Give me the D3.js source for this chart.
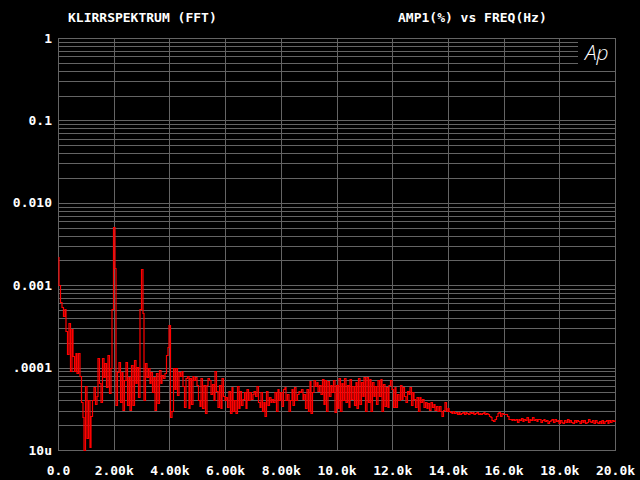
<!DOCTYPE html>
<html>
<head>
<meta charset="utf-8">
<script src="https://cdn.jsdelivr.net/npm/d3@7"></script>
<style>
  html, body { margin: 0; padding: 0; background: #000; }
  svg { display: block; }
</style>
</head>
<body>
<svg id="chart" width="640" height="480"></svg>
<script>
// ---- Data ----
const titleLeft = "KLIRRSPEKTRUM (FFT)";
const titleRight = "AMP1(%) vs FREQ(Hz)";
const logoText = "Ap";

// FFT bin spacing in Hz
const freqStepHz = 50;
// Amplitude of each bin, in u (1u = 1e-6 %), bins 0 Hz .. 20 kHz
const ampMicroPct = [
  2200,1000,620,540,420,510,280,145,350,90,
  290,140,90,150,86,150,80,38,25,10,
  60,14,40,11,26,40,58,36,45,130,
  65,38,130,77,114,58,142,49,100,520,
  5100,1600,35,88,117,38,88,31,71,117,
  35,77,31,107,35,124,65,102,44,520,
  1570,460,40,114,77,99,65,88,50,77,
  31,86,37,93,65,81,75,85,142,180,
  330,25,30,99,55,99,47,88,80,90,
  60,33,75,80,32,75,36,80,70,77,
  62,40,34,75,32,62,28,62,75,70,
  48,64,40,90,52,33,62,32,75,45,
  40,44,33,52,28,58,30,40,28,60,
  32,52,35,42,50,32,55,40,50,42,
  48,52,45,60,38,33,50,30,38,26,
  52,35,44,38,42,38,50,30,55,40,
  50,34,55,58,40,48,30,40,55,35,
  58,40,48,52,50,55,42,48,32,55,
  30,68,28,50,70,60,66,52,62,48,
  72,36,70,30,68,45,62,50,70,29,
  62,32,75,30,65,40,75,38,62,33,
  72,42,60,35,66,32,75,36,66,45,
  77,30,77,38,72,30,66,45,60,36,
  70,45,72,30,64,34,58,33,62,70,
  55,33,58,33,48,40,62,42,58,45,
  38,52,48,58,35,50,42,33,44,30,
  44,38,42,33,38,32,37,31,38,33,
  36,31,34,30,34,30,26,31,38,30,
  32,30,29,28,30,28,29,27,29,27,
  28,29,27,29,28,27,29,28,29,27,
  28,29,27,28,27,28,29,27,28,27,
  26,25,23,22.5,24,26,28,29,26,28,
  27.5,27.5,27,26,24,24,23,24,23,24,
  22,24,23,24.5,22.5,24,23,25,22,24,
  23,25,23,24,22.5,24,23.5,22,23,24,
  22.5,23,21.5,22.5,23,24,22,23.5,22.5,23,
  21.5,23,22,21.5,23,22,23.5,22,23,22,
  21.5,23,22,23,22.5,21.5,23,22,23,21.5,
  22,23.5,22.5,22,23,21.5,23,22,21,22.5,
  21.5,23,21,22.5,23,21.5,23,22,23,22.5,
  23
];

const yTickValues = [1e-5, 1e-4, 1e-3, 1e-2, 1e-1, 1];
const yTickLabels = ["10u", ".0001", "0.001", "0.010", "0.1", "1"];
const xTickValues = [0, 2000, 4000, 6000, 8000, 10000, 12000, 14000, 16000, 18000, 20000];
const xTickLabels = ["0.0", "2.00k", "4.00k", "6.00k", "8.00k", "10.0k", "12.0k", "14.0k", "16.0k", "18.0k", "20.0k"];

// ---- Layout ----
const plot = { left: 58, right: 615, top: 38, bottom: 450 };
const logoLeft = 578;
const gridColor = "#646464";
const font = "'DejaVu Sans Mono', monospace";

const svg = d3.select("#chart");
svg.append("rect").attr("width", 640).attr("height", 480).attr("fill", "#000");

const x = d3.scaleLinear().domain([0, 20000]).range([plot.left, plot.right]);
const y = d3.scaleLog().domain([1e-5, 1]).range([plot.bottom, plot.top]);

// Horizontal grid (1..9 per decade)
const gridG = svg.append("g").attr("shape-rendering", "crispEdges");
gridG.selectAll("line.h")
  .data(y.ticks())
  .join("line")
  .attr("class", "h")
  .attr("x1", plot.left)
  .attr("x2", d => (d > 0.45 && d < 0.95) ? logoLeft : plot.right)
  .attr("y1", d => Math.round(y(d)) + 0.5)
  .attr("y2", d => Math.round(y(d)) + 0.5)
  .attr("stroke", gridColor)
  .attr("stroke-width", 1);

// Vertical grid
gridG.selectAll("line.v")
  .data(xTickValues)
  .join("line")
  .attr("class", "v")
  .attr("x1", d => Math.round(x(d)) + 0.5)
  .attr("x2", d => Math.round(x(d)) + 0.5)
  .attr("y1", plot.top)
  .attr("y2", plot.bottom)
  .attr("stroke", gridColor)
  .attr("stroke-width", 1);

// Frame
gridG.append("rect")
  .attr("x", plot.left + 0.5).attr("y", plot.top + 0.5)
  .attr("width", plot.right - plot.left).attr("height", plot.bottom - plot.top)
  .attr("fill", "none").attr("stroke", gridColor).attr("stroke-width", 1);

// Clip
svg.append("clipPath").attr("id", "clip")
  .append("rect")
  .attr("x", plot.left).attr("y", plot.top)
  .attr("width", plot.right - plot.left + 1).attr("height", plot.bottom - plot.top + 1);

// Trace (snapped to pixel centres for a crisp 1px plotter look)
const line = d3.line()
  .x((d, i) => Math.round(x(i * freqStepHz)) + 0.5)
  .y(d => Math.round(y(Math.max(d * 1e-6, 1e-5))) + 0.5)
  .curve(d3.curveStep);

svg.append("path")
  .datum(ampMicroPct)
  .attr("clip-path", "url(#clip)")
  .attr("d", line)
  .attr("fill", "none")
  .attr("stroke", "#ff0000")
  .attr("stroke-width", 1.2);

// Axes labels
const yAxis = d3.axisLeft(y)
  .tickValues(yTickValues)
  .tickFormat((d, i) => yTickLabels[i])
  .tickSize(0)
  .tickPadding(6);
const yg = svg.append("g")
  .attr("transform", `translate(${plot.left},0)`)
  .call(yAxis);
yg.select(".domain").remove();
yg.selectAll("text")
  .attr("fill", "#fff")
  .attr("font-family", font)
  .attr("font-weight", "bold")
  .attr("font-size", 13);

const xAxis = d3.axisBottom(x)
  .tickValues(xTickValues)
  .tickFormat((d, i) => xTickLabels[i])
  .tickSize(0)
  .tickPadding(16);
const xg = svg.append("g")
  .attr("transform", `translate(0,${plot.bottom})`)
  .call(xAxis);
xg.select(".domain").remove();
xg.selectAll("text")
  .attr("fill", "#fff")
  .attr("font-family", font)
  .attr("font-weight", "bold")
  .attr("font-size", 13);

// Titles
svg.append("text")
  .attr("x", 68).attr("y", 22)
  .attr("fill", "#fff")
  .attr("font-family", font).attr("font-weight", "bold").attr("font-size", 13)
  .text(titleLeft);
svg.append("text")
  .attr("x", 398).attr("y", 22)
  .attr("fill", "#fff")
  .attr("font-family", font).attr("font-weight", "bold").attr("font-size", 13)
  .text(titleRight);

// Logo
svg.append("text")
  .attr("x", 585).attr("y", 60)
  .attr("fill", "#fff")
  .attr("font-family", "'Open Sans', sans-serif")
  .attr("font-style", "italic")
  .attr("font-weight", 300)
  .attr("font-size", 21)
  .text(logoText);
</script>
</body>
</html>
